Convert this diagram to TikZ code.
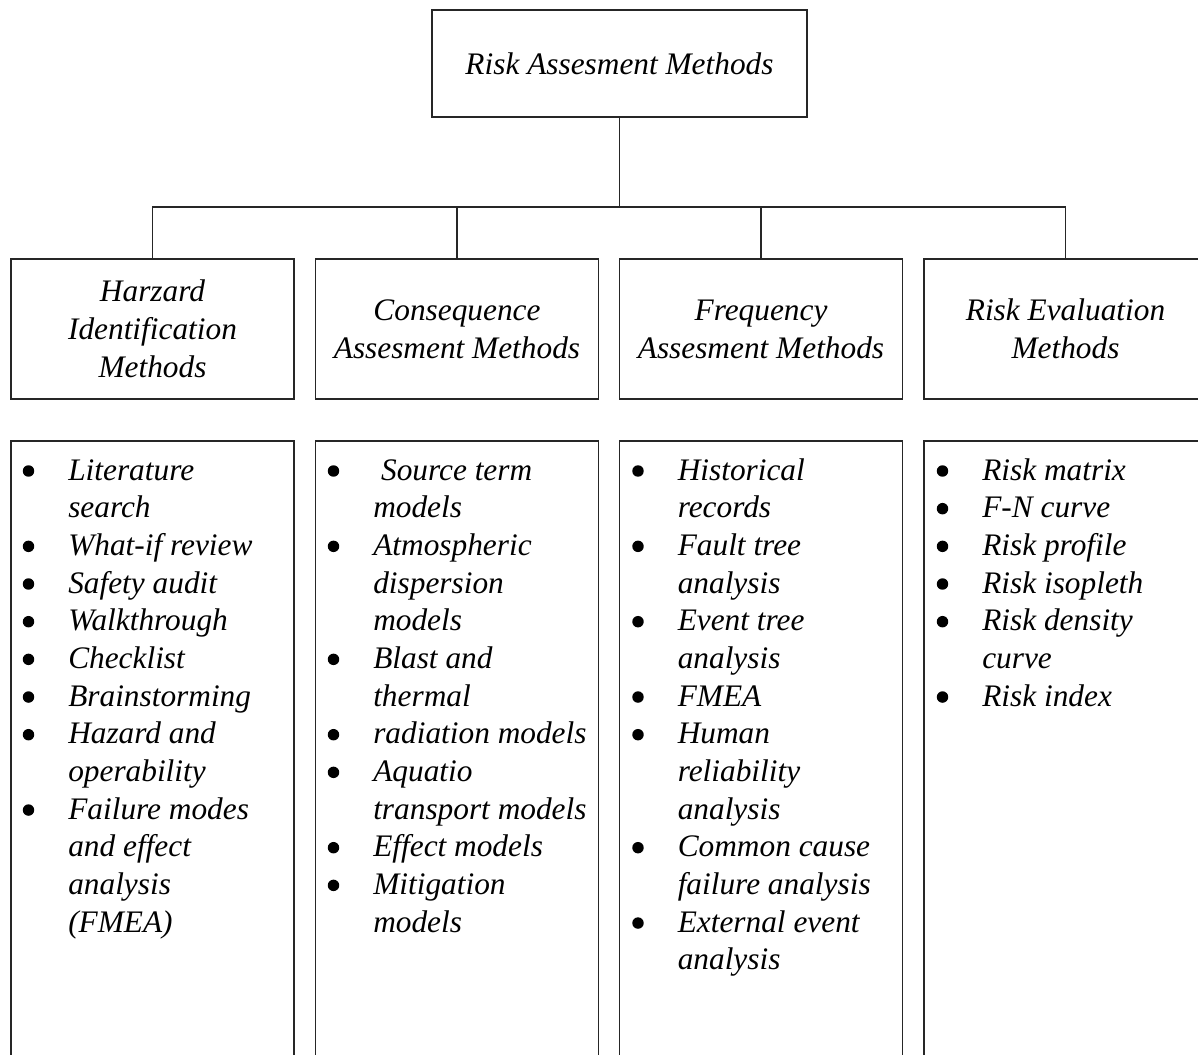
\documentclass[tikz,border=0pt]{standalone}
\usepackage{fontspec}
\setmainfont{Liberation Serif}
\begin{document}
\begin{tikzpicture}[x=0.75pt,y=-0.75pt,
  ln/.style={line width=0.8pt, draw=black!85},
  txt/.style={font=\itshape\fontsize{23.5}{28.5}\selectfont},
  topbox/.style={ln, draw, rectangle, inner sep=0pt, minimum width=281.25pt, minimum height=80.25pt, txt},
  headbox/.style={ln, draw, rectangle, inner sep=0pt, align=center, minimum width=212.25pt, minimum height=105pt, txt},
  listbox/.style={ln, draw, rectangle, inner sep=0pt, minimum width=212.25pt, minimum height=471.75pt},
  itm/.style={txt, anchor=base west, inner sep=0pt},
  blt/.style={fill=black}]
\clip (0,0) rectangle (1198,1055);
\fill[white] (0,0) rectangle (1198,1055);

% top
\node[topbox] (top) at (619.5,63.5) {Risk Assesment Methods};

% headers
\node[headbox] (h1) at (152.5,329) {Harzard\\Identification\\Methods};
\node[headbox] (h2) at (457,329) {Consequence\\Assesment Methods};
\node[headbox] (h3) at (761,329) {Frequency\\Assesment Methods};
\node[headbox] (h4) at (1065.5,329) {Risk Evaluation\\Methods};

% list boxes
\node[listbox] (b1) at (152.5,755.5) {};
\node[listbox] (b2) at (457,755.5) {};
\node[listbox] (b3) at (761,755.5) {};
\node[listbox] (b4) at (1065.5,755.5) {};

% connectors
\coordinate (bus) at (619.5,207);
\draw[ln] (top.south) -- (top.south |- bus);
\draw[ln] (h1.north) -- (h1.north |- bus) -- (h4.north |- bus) -- (h4.north);
\draw[ln] (h2.north) -- (h2.north |- bus);
\draw[ln] (h3.north) -- (h3.north |- bus);

% lists
\foreach \t/\b [count=\i from 0] in {Literature/1, search/0, What-if review/1, Safety audit/1, Walkthrough/1, Checklist/1, Brainstorming/1, Hazard and/1, operability/0, Failure modes/1, and effect/0, analysis/0, (FMEA)/0}{
  \node[itm] (p1-\i) at (68,{480+37.67*\i}) {\t};
  \ifnum\b=1 \fill[blt] (28.5,{471+37.67*\i}) circle[radius=4.3pt];\fi
}
\foreach \t/\b [count=\i from 0] in {\ Source term/1, models/0, Atmospheric/1, dispersion/0, models/0, Blast and/1, thermal/0, radiation models/1, Aquatio/1, transport models/0, Effect models/1, Mitigation/1, models/0}{
  \node[itm] (p2-\i) at (373,{480+37.67*\i}) {\t};
  \ifnum\b=1 \fill[blt] (333.5,{471+37.67*\i}) circle[radius=4.3pt];\fi
}
\foreach \t/\b [count=\i from 0] in {Historical/1, records/0, Fault tree/1, analysis/0, Event tree/1, analysis/0, FMEA/1, Human/1, reliability/0, analysis/0, Common cause/1, failure analysis/0, External event/1, analysis/0}{
  \node[itm] (p3-\i) at (677.5,{480+37.67*\i}) {\t};
  \ifnum\b=1 \fill[blt] (638,{471+37.67*\i}) circle[radius=4.3pt];\fi
}
\foreach \t/\b [count=\i from 0] in {Risk matrix/1, F-N curve/1, Risk profile/1, Risk isopleth/1, Risk density/1, curve/0, Risk index/1}{
  \node[itm] (p4-\i) at (982,{480+37.67*\i}) {\t};
  \ifnum\b=1 \fill[blt] (942.5,{471+37.67*\i}) circle[radius=4.3pt];\fi
}
\end{tikzpicture}
\end{document}
